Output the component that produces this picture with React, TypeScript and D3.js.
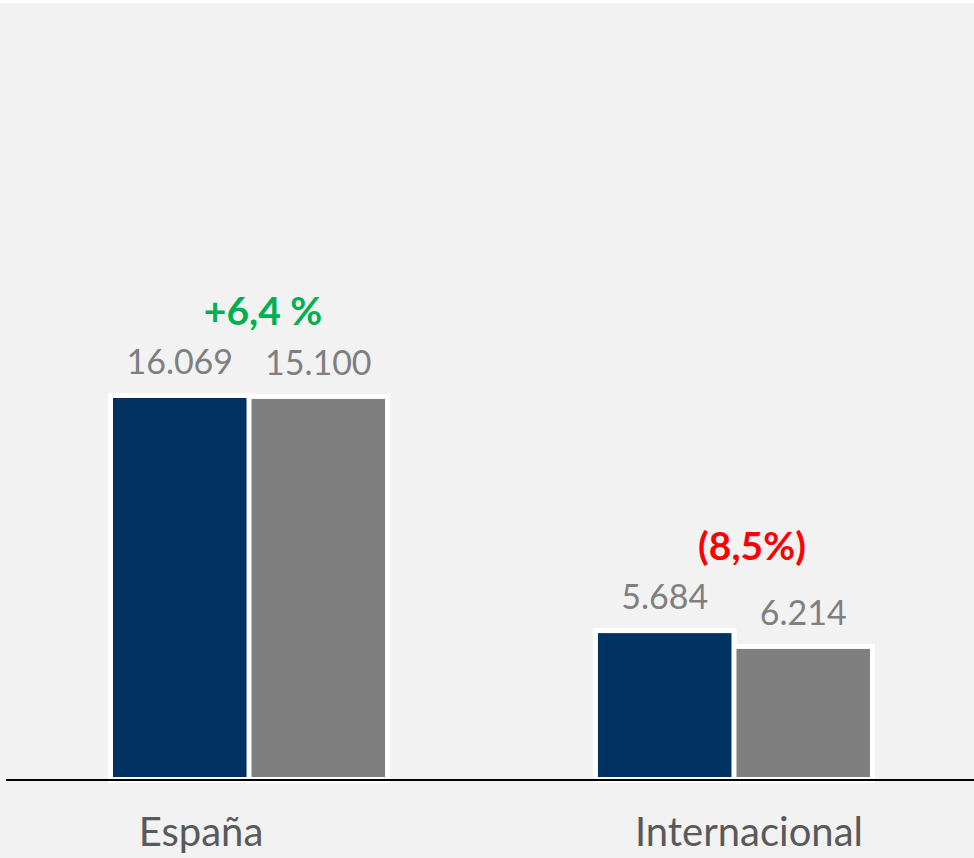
import React from "react";
import * as d3 from "d3";

const categories = ["España", "Internacional"];
const series = ["Actual", "Anterior"];
// bar heights as drawn in the picture (in value units)
const barActual = [16069, 6100];
const barAnterior = [16030, 5430];
const labelActual = ["16.069", "5.684"];
const labelAnterior = ["15.100", "6.214"];
const changeLabels = ["+6,4 %", "(8,5%)"];
const changeColors = ["#00b050", "#ff0000"];

const W = 974;
const H = 858;
const FONT = "Lato, 'Open Sans', sans-serif";

export default function App() {
  const baseY = 777;
  const y = d3.scaleLinear().domain([0, 16069]).range([baseY, 398]);
  const x0 = d3.scaleBand<string>().domain(categories).range([113, 870]).paddingInner(0.439).paddingOuter(0);
  const x1 = d3.scaleBand<string>().domain(series).range([0, x0.bandwidth()]).paddingInner(10 / 277).paddingOuter(0);
  const colors: Record<string, string> = { Actual: "#003262", Anterior: "#7f7f7f" };

  const bars = categories.flatMap((c, i) => [
    { cat: c, s: "Actual", v: barActual[i], label: labelActual[i] },
    { cat: c, s: "Anterior", v: barAnterior[i], label: labelAnterior[i] },
  ]);
  const bx = (b: { cat: string; s: string }) => (x0(b.cat) as number) + (x1(b.s) as number);
  const bw = x1.bandwidth();
  const pad = 5;
  const catOffsets = [-48, 15];
  const changeOffsets = [14, 18];

  return (
    <svg width={W} height={H} style={{ position: "absolute", left: 0, top: 0, display: "block" }}>
      <rect x={0} y={0} width={W} height={H} fill="#ffffff" />
      <rect x={0} y={3} width={W} height={H - 3} fill="#f2f2f2" />
      {bars.map((b, i) => (
        <rect key={"bg" + i} x={bx(b) - pad} y={y(b.v) - pad} width={bw + 2 * pad} height={baseY - y(b.v) + pad + 6} fill="#ffffff" />
      ))}
      {bars.map((b, i) => (
        <rect key={"b" + i} x={bx(b)} y={y(b.v)} width={bw} height={baseY - y(b.v)} fill={colors[b.s]} />
      ))}
      <line x1={6} x2={W} y1={780} y2={780} stroke="#000000" strokeWidth={2} />
      {bars.map((b, i) => (
        <text key={"l" + i} x={bx(b) + bw / 2} y={y(b.v) - 24} textAnchor="middle" fill="#7f7f7f" fontFamily={FONT} fontSize={34}>
          {b.label}
        </text>
      ))}
      {categories.map((c, i) => {
        const top = y(barActual[i]);
        return (
          <text key={"p" + i} x={(x0(c) as number) + x0.bandwidth() / 2 + changeOffsets[i]} y={top - 73} textAnchor="middle" fill={changeColors[i]} fontFamily={FONT} fontWeight="bold" fontSize={39}>
            {changeLabels[i]}
          </text>
        );
      })}
      {categories.map((c, i) => (
        <text key={"c" + i} x={(x0(c) as number) + x0.bandwidth() / 2 + catOffsets[i]} y={846} textAnchor="middle" fill="#595959" fontFamily={FONT} fontSize={40}>
          {c}
        </text>
      ))}
    </svg>
  );
}
